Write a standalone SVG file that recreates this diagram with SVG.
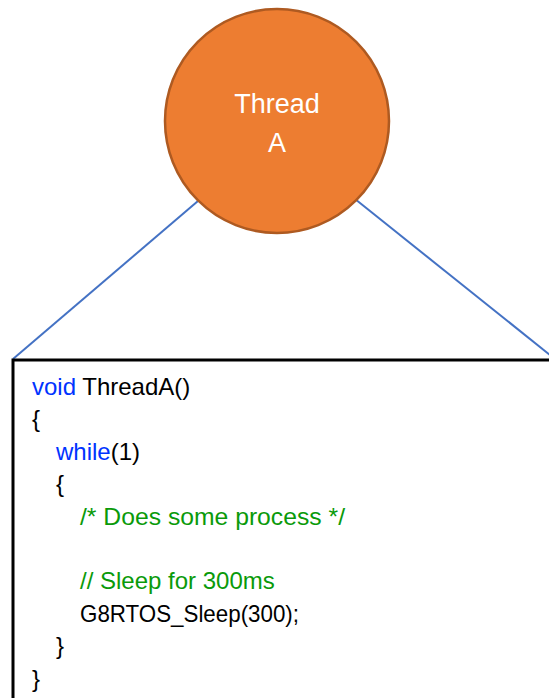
<svg xmlns="http://www.w3.org/2000/svg" width="549" height="698" viewBox="0 0 549 698">
  <style>
    .link { stroke: #4472C4; stroke-width: 2; fill: none; }
    .thread { fill: #ED7D31; stroke: #AE5A21; stroke-width: 2.5; }
    .thread-label { font-family: "Liberation Sans", Arial, sans-serif; font-size: 27px; fill: #FFFFFF; text-anchor: middle; }
    .code-box { fill: #FFFFFF; stroke: #000000; stroke-width: 3; }
    .code { font-family: "Liberation Sans", Arial, sans-serif; font-size: 24px; fill: #000000; }
    .kw { fill: #0033FF; }
    .cm { fill: #0A9A0A; }
  </style>
  <rect width="549" height="698" fill="#FFFFFF"/>

  <!-- connectors from the thread node down to the code box corners -->
  <g id="connectors">
    <line class="link" x1="205" y1="195" x2="13" y2="359"/>
    <line class="link" x1="350" y1="195" x2="550" y2="355"/>
  </g>

  <!-- thread node -->
  <g id="thread-a">
    <circle class="thread" cx="277" cy="121" r="112"/>
    <text class="thread-label" x="277" y="113">Thread</text>
    <text class="thread-label" x="277" y="152">A</text>
  </g>

  <!-- code listing -->
  <g id="code-listing">
    <rect class="code-box" x="13" y="360" width="560" height="360"/>
    <text class="code" x="32" y="395"><tspan class="kw">void</tspan> ThreadA()</text>
    <text class="code" x="32" y="427.4">{</text>
    <text class="code" x="56" y="459.8"><tspan class="kw">while</tspan>(1)</text>
    <text class="code" x="56" y="492.2">{</text>
    <text class="code cm" x="80" y="524.6" textLength="265" lengthAdjust="spacingAndGlyphs">/* Does some process */</text>
    <text class="code cm" x="80" y="589.4">// Sleep for 300ms</text>
    <text class="code" x="80" y="621.8" textLength="219" lengthAdjust="spacingAndGlyphs">G8RTOS_Sleep(300);</text>
    <text class="code" x="56" y="654.2">}</text>
    <text class="code" x="32" y="686.6">}</text>
  </g>
</svg>
